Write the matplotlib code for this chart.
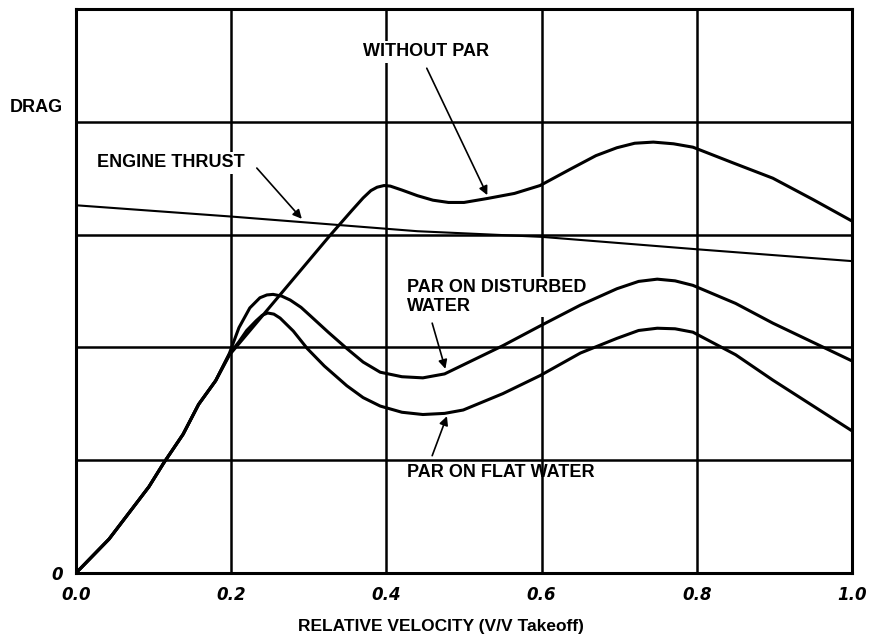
import numpy as np
import matplotlib
matplotlib.use("Agg")
import matplotlib.pyplot as plt

# relative velocity (V/V takeoff) vs drag (drag axis 0..1)
without_par_x = [0.0, 0.0425, 0.094, 0.113, 0.138, 0.158, 0.18, 0.198, 0.327, 0.355,
                 0.37, 0.38, 0.388, 0.397, 0.405, 0.42, 0.44, 0.46, 0.48, 0.50,
                 0.53, 0.565, 0.598, 0.637, 0.67, 0.697, 0.72, 0.744, 0.77, 0.795,
                 0.847, 0.898, 0.95, 1.0]
without_par_y = [0.0, 0.060, 0.153, 0.195, 0.246, 0.299, 0.341, 0.387, 0.598, 0.642,
                 0.665, 0.678, 0.684, 0.687, 0.686, 0.679, 0.669, 0.661, 0.657, 0.657,
                 0.664, 0.673, 0.687, 0.716, 0.740, 0.754, 0.762, 0.764, 0.761, 0.755,
                 0.727, 0.700, 0.662, 0.624]

thrust_x = [0.0, 0.2, 0.44, 0.6, 0.8, 1.0]
thrust_y = [0.652, 0.632, 0.606, 0.596, 0.574, 0.553]

disturbed_x = [0.0, 0.0425, 0.094, 0.113, 0.138, 0.158, 0.18, 0.197, 0.21, 0.224,
               0.237, 0.246, 0.254, 0.265, 0.276, 0.29, 0.302, 0.325, 0.349, 0.37,
               0.392, 0.42, 0.447, 0.475, 0.499, 0.55, 0.598, 0.65, 0.697, 0.725,
               0.749, 0.772, 0.795, 0.85, 0.898, 1.0]
disturbed_y = [0.0, 0.060, 0.153, 0.195, 0.246, 0.299, 0.341, 0.387, 0.435, 0.470,
               0.488, 0.493, 0.494, 0.491, 0.484, 0.471, 0.456, 0.427, 0.398, 0.374,
               0.356, 0.348, 0.346, 0.353, 0.369, 0.403, 0.438, 0.475, 0.504, 0.517,
               0.521, 0.518, 0.510, 0.478, 0.443, 0.376]

flat_x = [0.0, 0.0425, 0.094, 0.113, 0.138, 0.158, 0.18, 0.197, 0.21, 0.22,
          0.232, 0.24, 0.247, 0.255, 0.263, 0.28, 0.298, 0.32, 0.349, 0.37,
          0.392, 0.42, 0.447, 0.475, 0.499, 0.55, 0.598, 0.65, 0.697, 0.725,
          0.749, 0.772, 0.795, 0.85, 0.898, 1.0]
flat_y = [0.0, 0.060, 0.153, 0.195, 0.246, 0.299, 0.341, 0.387, 0.410, 0.430,
          0.447, 0.457, 0.461, 0.459, 0.452, 0.429, 0.398, 0.367, 0.332, 0.311,
          0.296, 0.285, 0.281, 0.283, 0.289, 0.318, 0.350, 0.390, 0.416, 0.430,
          0.434, 0.433, 0.427, 0.387, 0.342, 0.252]

x_ticks = [0.0, 0.2, 0.4, 0.6, 0.8, 1.0]
x_tick_labels = ["0.0", "0.2", "0.4", "0.6", "0.8", "1.0"]
y_grid = [0.0, 0.2, 0.4, 0.6, 0.8, 1.0]

W, H = 881, 642
fig = plt.figure(figsize=(W / 100, H / 100), dpi=100)
ax = fig.add_axes([76 / W, 1 - 573 / H, 776 / W, 564 / H])

ax.set_xlim(0, 1)
ax.set_ylim(0, 1)
ax.set_xticks(x_ticks)
ax.set_yticks(y_grid)
ax.grid(True, color="black", linewidth=1.8)
ax.set_axisbelow(True)
for sp in ax.spines.values():
    sp.set_linewidth(2.2)

tick_font = dict(family="DejaVu Sans", style="italic", weight="bold", size=12)
ax.set_xticklabels(x_tick_labels, fontdict=tick_font)
ax.set_yticklabels(["0", "", "", "", "", ""], fontdict=tick_font)
ax.tick_params(axis="both", length=0)
ax.tick_params(axis="x", pad=9)
ax.tick_params(axis="y", pad=9)

lw = 2.2
style = dict(color="black", lw=lw, solid_capstyle="round", solid_joinstyle="round", zorder=2)
ax.plot(without_par_x, without_par_y, **style)
ax.plot(disturbed_x, disturbed_y, **style)
ax.plot(flat_x, flat_y, **style)
ax.plot(thrust_x, thrust_y, color="black", lw=1.5, zorder=2)

# labels sit on white patches that break the grid lines, as in the original
lab = dict(family="Liberation Sans", weight="bold", size=13)
box = dict(facecolor="white", edgecolor="none", pad=1.5)
arrow = dict(arrowstyle="-|>", color="black", lw=1.2, mutation_scale=13,
             shrinkA=0, shrinkB=0)

ax.annotate("", xy=(0.291, 0.628), xytext=(0.233, 0.718), arrowprops=arrow)
ax.text(0.027, 0.727, "ENGINE THRUST", ha="left", va="center", fontdict=lab,
        bbox=box, zorder=1.5)

ax.annotate("", xy=(0.53, 0.670), xytext=(0.452, 0.895), arrowprops=arrow)
ax.text(0.37, 0.924, "WITHOUT PAR", ha="left", va="center", fontdict=lab,
        bbox=box, zorder=1.5)

ax.annotate("", xy=(0.476, 0.362), xytext=(0.459, 0.443), arrowprops=arrow)
ax.text(0.427, 0.521, "PAR ON DISTURBED\nWATER", ha="left", va="top",
        linespacing=1.15, fontdict=lab, bbox=box, zorder=1.5)

ax.annotate("", xy=(0.478, 0.278), xytext=(0.459, 0.208), arrowprops=arrow)
ax.text(0.427, 0.178, "PAR ON FLAT WATER", ha="left", va="center", fontdict=lab)

fig.text(10 / W, 1 - 107 / H, "DRAG", ha="left", va="center", fontdict=lab)
fig.text(441 / W, 1 - 626 / H, "RELATIVE VELOCITY (V/V Takeoff)", ha="center",
         va="center", family="Liberation Sans", weight="bold", size=12.5)

fig.savefig("out.png", dpi=100, facecolor="white")
